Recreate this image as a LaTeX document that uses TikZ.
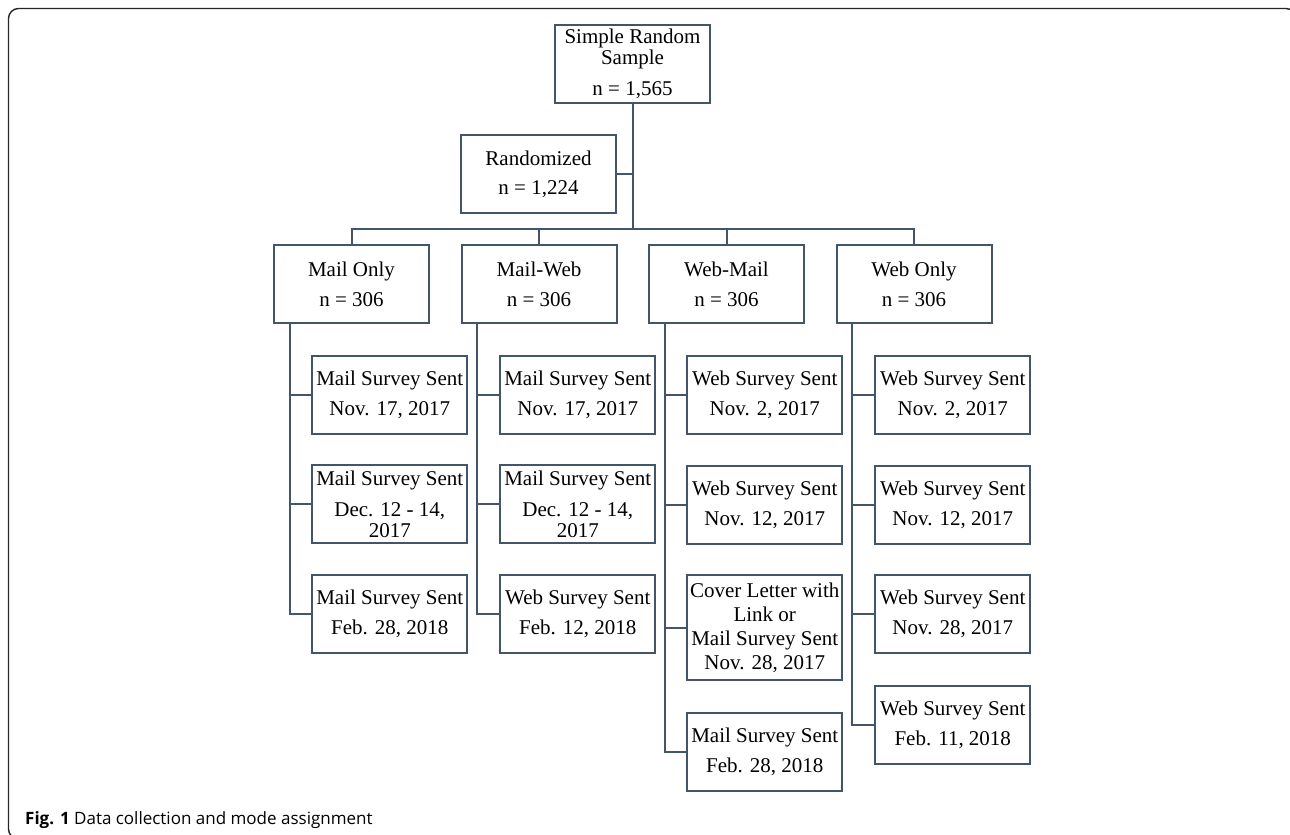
\documentclass[tikz,border=0pt]{standalone}
\usepackage{fontspec}
\setmainfont{Liberation Serif}
\newfontfamily\capfont{Open Sans}
\definecolor{lnc}{RGB}{68,84,106}
\begin{document}
\begin{tikzpicture}[x=1pt,y=-1pt,
  box/.style={draw=lnc, line width=2pt, minimum width=155pt, minimum height=78pt,
    inner sep=0pt, align=center, text=black, font=\fontsize{21}{22}\selectfont},
  tallbox/.style={box, minimum height=105pt, font=\fontsize{21}{24}\selectfont},
  conn/.style={draw=lnc, line width=2pt},
  frame/.style={draw=black!85, line width=1.4pt, rounded corners=10pt}]
\useasboundingbox (0,0) rectangle (1290,835);
\begin{scope}
\clip (0,0) rectangle (1290,835);
\draw[frame] (8.5,8.5) rectangle (1296,839);
\end{scope}

% top
\node[box] (srs) at (632.5,64) {Simple Random\\[-1pt]Sample\\[9pt]n = 1,565};
\node[box] (rand) at (538.5,174) {Randomized\\[7pt]n = 1,224};
\coordinate (bus) at (632.5,229);

% level 2
\node[box] (mo) at (351.5,284) {Mail Only\\[8pt]n = 306};
\node[box] (mw) at (539,284) {Mail-Web\\[8pt]n = 306};
\node[box] (wm) at (726.5,284) {Web-Mail\\[8pt]n = 306};
\node[box] (wo) at (914,284) {Web Only\\[8pt]n = 306};

% level 3: Mail Only
\node[box] (a1) at (389.75,394.5) {Mail Survey Sent\\[8pt]Nov. 17, 2017};
\node[box] (a2) at (389.75,504) {Mail Survey Sent\\[9pt]Dec. 12 - 14,\\[-1pt]2017};
\node[box] (a3) at (389.75,614) {Mail Survey Sent\\[8pt]Feb. 28, 2018};
% Mail-Web
\node[box] (b1) at (577.75,394.5) {Mail Survey Sent\\[8pt]Nov. 17, 2017};
\node[box] (b2) at (577.75,504) {Mail Survey Sent\\[9pt]Dec. 12 - 14,\\[-1pt]2017};
\node[box] (b3) at (577.75,614) {Web Survey Sent\\[8pt]Feb. 12, 2018};
% Web-Mail
\node[box] (c1) at (764.75,394.5) {Web Survey Sent\\[8pt]Nov. 2, 2017};
\node[box] (c2) at (764.75,504.5) {Web Survey Sent\\[8pt]Nov. 12, 2017};
\node[tallbox] (c3) at (764.75,627.5) {Cover Letter with\\Link or\\Mail Survey Sent\\Nov. 28, 2017};
\node[box] (c4) at (764.75,751.5) {Mail Survey Sent\\[8pt]Feb. 28, 2018};
% Web Only
\node[box] (d1) at (952.75,394.5) {Web Survey Sent\\[8pt]Nov. 2, 2017};
\node[box] (d2) at (952.75,504.5) {Web Survey Sent\\[8pt]Nov. 12, 2017};
\node[box] (d3) at (952.75,614) {Web Survey Sent\\[8pt]Nov. 28, 2017};
\node[box] (d4) at (952.75,724.5) {Web Survey Sent\\[8pt]Feb. 11, 2018};

% connectors top
\draw[conn] (srs.south) -- (bus);
\draw[conn] (rand.east) -- (rand.east -| bus);
\draw[conn] (mo.north) -- (mo.north |- bus) -- (wo.north |- bus) -- (wo.north);
\draw[conn] (mw.north) -- (mw.north |- bus);
\draw[conn] (wm.north) -- (wm.north |- bus);

% trunks
\coordinate (ta) at (289.5,323);
\coordinate (tb) at (477,323);
\coordinate (tc) at (664.5,323);
\coordinate (td) at (852,323);
\draw[conn] (ta) |- (a3.west);
\draw[conn] (ta |- a1.west) -- (a1.west);
\draw[conn] (ta |- a2.west) -- (a2.west);
\draw[conn] (tb) |- (b3.west);
\draw[conn] (tb |- b1.west) -- (b1.west);
\draw[conn] (tb |- b2.west) -- (b2.west);
\draw[conn] (tc) |- (c4.west);
\draw[conn] (tc |- c1.west) -- (c1.west);
\draw[conn] (tc |- c2.west) -- (c2.west);
\draw[conn] (tc |- c3.west) -- (c3.west);
\draw[conn] (td) |- (d4.west);
\draw[conn] (td |- d1.west) -- (d1.west);
\draw[conn] (td |- d2.west) -- (d2.west);
\draw[conn] (td |- d3.west) -- (d3.west);

% caption
\node[anchor=base west, inner sep=0pt, font=\capfont\fontsize{17}{20}\selectfont] (cap) at (25,824)
  {\textbf{Fig. 1} Data collection and mode assignment};
\end{tikzpicture}
\end{document}
